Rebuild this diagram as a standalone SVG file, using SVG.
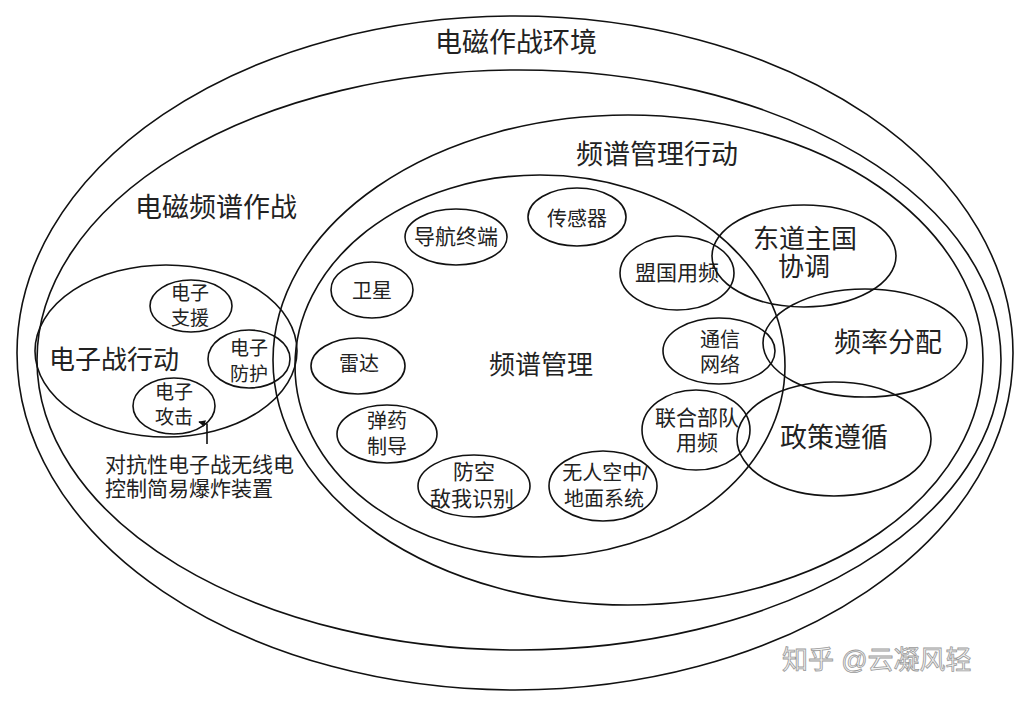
<svg xmlns="http://www.w3.org/2000/svg" width="1032" height="704" viewBox="0 0 1032 704">
<style>
.e{fill:none;stroke:#111;stroke-width:1.6}
text{font-family:"Liberation Sans","Noto Sans CJK SC",sans-serif;fill:#222;dominant-baseline:central;text-anchor:middle}
.t27{font-size:27px}
.t26{font-size:26px}
.t21{font-size:21px}
.t20{font-size:20px}
.t19{font-size:19px}
.wm{font-size:26px;fill:#f2f2f2;stroke:#9a9a9a;stroke-width:0.8;text-anchor:start}
</style>
<defs>
<marker id="ah" viewBox="0 0 10 10" refX="9" refY="5" markerWidth="7" markerHeight="7" markerUnits="userSpaceOnUse" orient="auto">
<path d="M0,0 L10,5 L0,10 z" fill="#111"/>
</marker>
</defs>
<rect width="1032" height="704" fill="#ffffff"/>

<g id="env"><ellipse class="e" cx="515" cy="353" rx="498" ry="337"/><text class="t27" x="516" y="43">电磁作战环境</text></g>
<g id="ems-ops"><ellipse class="e" cx="519" cy="360" rx="482" ry="290"/><text class="t27" x="216" y="208">电磁频谱作战</text></g>
<g id="sm-ops"><ellipse class="e" cx="628" cy="360" rx="355" ry="245"/><text class="t27" x="657" y="155">频谱管理行动</text></g>
<g id="sm"><ellipse class="e" cx="540" cy="366" rx="245" ry="191"/><text class="t26" x="541" y="365">频谱管理</text></g>

<g id="ew-ops"><ellipse class="e" cx="166" cy="351" rx="131" ry="86"/><text class="t26" x="114" y="360">电子战行动</text></g>
<g id="es"><ellipse class="e" cx="191" cy="306" rx="41" ry="26"/><text class="t19" x="190" y="293"><tspan x="190">电子</tspan><tspan x="190" dy="25">支援</tspan></text></g>
<g id="ep"><ellipse class="e" cx="249" cy="359" rx="41" ry="29"/><text class="t19" x="249" y="348"><tspan x="249">电子</tspan><tspan x="249" dy="26">防护</tspan></text></g>
<g id="ea"><ellipse class="e" cx="174" cy="406" rx="41" ry="28"/><text class="t19" x="174" y="392"><tspan x="174">电子</tspan><tspan x="174" dy="25">攻击</tspan></text></g>
<g id="ied-label"><text class="t21" x="105" y="464" style="text-anchor:start"><tspan x="105">对抗性电子战无线电</tspan><tspan x="105" dy="24">控制简易爆炸装置</tspan></text></g>

<g id="nav"><ellipse class="e" cx="456" cy="237" rx="51" ry="28"/><text class="t21" x="456" y="236">导航终端</text></g>
<g id="sensor"><ellipse class="e" cx="577" cy="217" rx="49" ry="29"/><text class="t20" x="577" y="219">传感器</text></g>
<g id="sat"><ellipse class="e" cx="372" cy="290" rx="41" ry="28"/><text class="t20" x="372" y="291">卫星</text></g>
<g id="radar"><ellipse class="e" cx="358" cy="366" rx="47" ry="28"/><text class="t20" x="359" y="364">雷达</text></g>
<g id="munition"><ellipse class="e" cx="387" cy="434" rx="50" ry="29"/><text class="t20" x="387" y="421"><tspan x="387">弹药</tspan><tspan x="387" dy="26">制导</tspan></text></g>
<g id="iff"><ellipse class="e" cx="474" cy="486" rx="56" ry="31"/><text class="t21" x="474" y="471"><tspan x="474">防空</tspan><tspan x="472" dy="27">敌我识别</tspan></text></g>
<g id="uas"><ellipse class="e" cx="603" cy="486" rx="54" ry="35"/><text class="t20" x="605" y="473"><tspan x="605">无人空中/</tspan><tspan x="604" dy="26">地面系统</tspan></text></g>
<g id="allied"><ellipse class="e" cx="677" cy="273" rx="57" ry="37"/><text class="t21" x="677" y="272">盟国用频</text></g>
<g id="comm"><ellipse class="e" cx="719" cy="351" rx="56" ry="33"/><text class="t20" x="720" y="340"><tspan x="720">通信</tspan><tspan x="720" dy="25">网络</tspan></text></g>
<g id="joint"><ellipse class="e" cx="696" cy="430" rx="54" ry="40"/><text class="t21" x="697" y="417"><tspan x="697">联合部队</tspan><tspan x="697" dy="25">用频</tspan></text></g>
<g id="host"><ellipse class="e" cx="804" cy="256" rx="92" ry="51"/><text style="font-size:26px" x="805" y="239"><tspan x="805">东道主国</tspan><tspan x="804" dy="28">协调</tspan></text></g>
<g id="freq"><ellipse class="e" cx="865" cy="343" rx="102" ry="54"/><text class="t27" x="888" y="343">频率分配</text></g>
<g id="policy"><ellipse class="e" cx="834" cy="439" rx="97" ry="57"/><text class="t27" x="834" y="438">政策遵循</text></g>

<g id="connectors"><path d="M207,444 L207,424 L199,422" fill="none" stroke="#111" stroke-width="1.6" marker-end="url(#ah)"/></g>

<text class="wm" x="782" y="660">知乎 @云凝风轻</text>
</svg>
